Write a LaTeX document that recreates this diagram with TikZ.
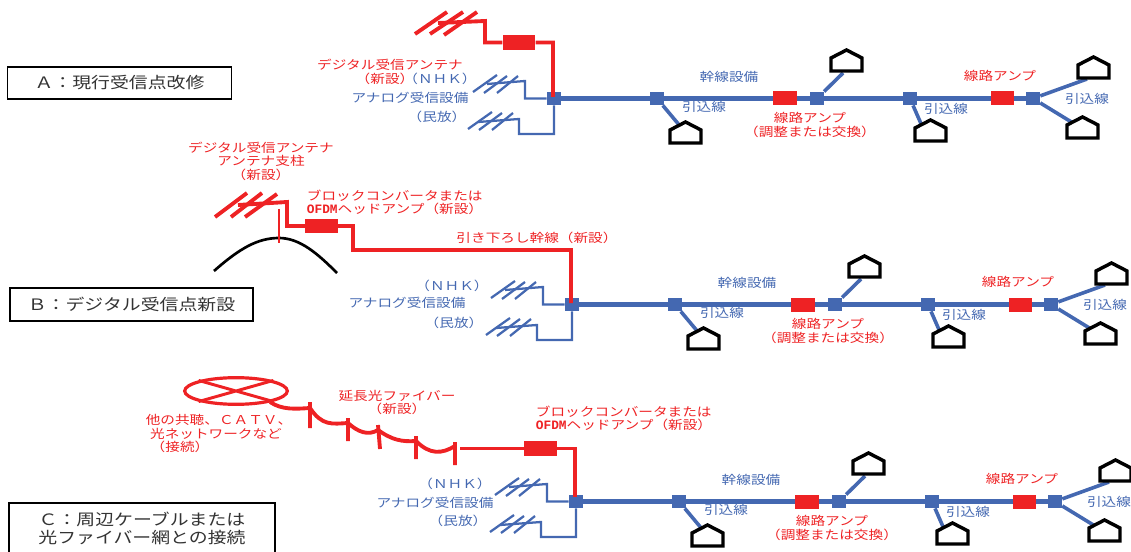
\documentclass[tikz,border=0pt]{standalone}
\usetikzlibrary{shapes.geometric}
\usepackage{fontspec}
\newfontfamily\jp[FakeStretch=1.2]{Noto Sans CJK JP}
\newfontfamily\ofdmfont[FakeStretch=1.0]{Liberation Mono}
\definecolor{netred}{HTML}{EE2224}
\definecolor{netblue}{HTML}{4468B1}
\definecolor{boxtext}{HTML}{333333}
\tikzset{
  lblred/.style={text=netred,font=\jp\fontsize{9.15}{10.2}\selectfont,inner sep=0pt,align=center},
  lblblue/.style={text=netblue,font=\jp\fontsize{9.15}{10.2}\selectfont,inner sep=0pt,align=center},
  titlebox/.style={draw=black,line width=1.2pt,fill=white,text=boxtext,font=\jp\fontsize{11.8}{13.5}\selectfont,inner sep=0pt,align=center},
  trunk/.style={draw=netblue,line width=3.7pt},
  branch/.style={draw=netblue,line width=2.7pt},
  thinblue/.style={draw=netblue,line width=1.7pt,line join=miter},
  redline/.style={draw=netred,line width=2.9pt,line join=miter},
  redthin/.style={draw=netred,line width=2.2pt},
  junction/.style={fill=netblue,minimum width=10.5pt,minimum height=10pt,inner sep=0pt},
  amp/.style={fill=netred,minimum width=17.5pt,minimum height=10.5pt,inner sep=0pt},
  bigamp/.style={fill=netred,minimum width=24.5pt,minimum height=11pt,inner sep=0pt},
  housebox/.style={draw=black,line width=2.6pt,fill=white,line join=miter},
}
% house: #1 top-left corner x, #2 roof top y
\newcommand{\housepic}[2]{\draw[housebox] (#1,#2+21) -- (#1,#2+8) -- (#1+15.5,#2) -- (#1+31,#2+8) -- (#1+31,#2+21) -- cycle;}
% blue antenna: #1 x-shift, #2 y-shift in relation to the upper antenna position
\newcommand{\blueelements}[2]{%
  \draw[thinblue] (#1,#2) -- (#1+24,#2-17) (#1+11,#2+1) -- (#1+34,#2-16) (#1+24,#2+1) -- (#1+45,#2-16);}
% repeated distribution network: #1 prefix, #2 dx, #3 dy
\newcommand{\feeder}[3]{%
\begin{scope}[shift={(#2,#3)},name prefix=#1-]
  \node[junction] (J) at (554,98.5) {};
  \node[junction] (S1) at (657,98.5) {};
  \node[amp] (A1) at (785,98.5) {};
  \node[junction] (S2) at (817,98.5) {};
  \node[junction] (S3) at (910,98.5) {};
  \node[amp] (A2) at (1002.5,98.5) {};
  \node[junction] (S4) at (1033,98.5) {};
  \draw[trunk] (J) -- (S1) -- (A1) -- (S2) -- (S3) -- (A2) -- (S4);
  \coordinate (H1) at (680,126);
  \coordinate (H2) at (843,73);
  \coordinate (H3) at (922,126);
  \coordinate (H4) at (1087,79);
  \coordinate (H5) at (1073,123);
  \draw[branch] (S1) -- (H1);
  \draw[branch] (S2) -- (H2);
  \draw[branch] (S3) -- (H3);
  \draw[branch] (S4) -- (H4);
  \draw[branch] (S4) -- (H5);
  \housepic{670}{122}
  \housepic{831}{50}
  \housepic{915}{120}
  \housepic{1078}{57}
  \housepic{1067}{117}
  \coordinate (U1) at (487,84);
  \coordinate (U2) at (525,81);
  \coordinate (U3) at (525,98.5);
  \coordinate (L1) at (478,122);
  \coordinate (L2) at (519,119);
  \coordinate (L3) at (519,134);
  \coordinate (L4) at (554,134);
  \blueelements{473}{92}
  \blueelements{468}{129}
  \draw[thinblue] (U1) -- (U2) -- (U3) -- (J);
  \draw[thinblue] (L1) -- (L2) -- (L3) -- (L4) -- (J);
  \node[lblblue] (t1) at (729,77) {幹線設備};
  \node[lblblue] (t2) at (704,107) {引込線};
  \node[lblred] (t3) at (810,125) {線路アンプ\\（調整または交換）};
  \node[lblblue] (t4) at (946,109) {引込線};
  \node[lblred] (t5) at (1000,76) {線路アンプ};
  \node[lblblue] (t6) at (1087,99) {引込線};
\end{scope}}
\begin{document}
\begin{tikzpicture}[x=0.75pt,y=-0.75pt]
\useasboundingbox (0,0) rectangle (1131,552);
\clip (0,0) rectangle (1131,552);
% ---- A
\feeder{a}{0}{0}
\node[titlebox,minimum width=168pt,minimum height=24pt] (boxA) at (119.5,83) {Ａ：現行受信点改修};
\node[bigamp] (ampA) at (519,42.5) {};
\coordinate (a1) at (438,23);
\coordinate (a2) at (485,21);
\coordinate (a3) at (485,42.5);
\coordinate (a4) at (553,42.5);
\coordinate (a5) at (553,97);
\draw[redline] (415,34) -- (447,12) (430,34) -- (463,12) (444,35) -- (477,12);
\draw[redline] (a1) -- (a2) -- (a3) -- (ampA) -- (a4) -- (a5);
\node[lblred] (la1) at (390,65) {デジタル受信アンテナ};
\node[lblred] (la2) at (385,79) {（新設）};
\node[lblblue] (la3) at (440,79) {（ＮＨＫ）};
\node[lblblue] (la4) at (410,98) {アナログ受信設備};
\node[lblblue] (la5) at (437,117) {（民放）};
% ---- B
\feeder{b}{18}{206}
\node[titlebox,minimum width=182pt,minimum height=24.5pt] (boxB) at (131.5,304.5) {Ｂ：デジタル受信点新設};
\coordinate (hl) at (214,271);
\coordinate (hr) at (337,273);
\coordinate (ht) at (279,238);
\draw[black,line width=2pt] (hl) .. controls (240,248) and (258,238) .. (ht) .. controls (300,238) and (318,254) .. (hr);
\draw[redthin] (279,209) -- (279,243);
\node[bigamp] (ampB) at (321.5,226) {};
\coordinate (b1) at (238,205);
\coordinate (b2) at (287,202);
\coordinate (b3) at (287,226);
\coordinate (b4) at (353,226);
\coordinate (b5) at (353,250);
\coordinate (b6) at (571,250);
\coordinate (b7) at (571,303);
\draw[redline] (215,217) -- (247,193) (231,217) -- (262,193) (245,217) -- (277,194);
\draw[redline] (b1) -- (b2) -- (b3) -- (ampB) -- (b4) -- (b5) -- (b6) -- (b7);
\node[lblred] (lb1) at (261,161) {デジタル受信アンテナ\\アンテナ支柱\\（新設）};
\node[lblred,align=left] (lb2) at (395,202.5) {ブロックコンバータまたは\\{\ofdmfont\bfseries\fontsize{9.6}{10.2}\selectfont OFDM}ヘッドアンプ（新設）};
\node[lblred] (lb3) at (537,238) {引き下ろし幹線（新設）};
\node[lblblue] (lb4) at (452,286) {（ＮＨＫ）};
\node[lblblue] (lb5) at (407,303) {アナログ受信設備};
\node[lblblue] (lb6) at (454,323) {（民放）};
% ---- C
\feeder{c}{22}{403}
\node[titlebox,minimum width=199.5pt,minimum height=45pt] (boxC) at (142,533) {};
\node[text=boxtext,font=\jp\fontsize{11.8}{13.5}\selectfont,inner sep=0pt,align=center] (lc0) at (142,528) {Ｃ：周辺ケーブルまたは\\光ファイバー網との接続};
\node[draw=netred,line width=2.4pt,ellipse,minimum width=77pt,minimum height=20pt,inner sep=0pt] (ell) at (236,391) {};
\draw[redthin] (ell.north west) -- (ell.south east) (ell.south west) -- (ell.north east);
\coordinate (f0) at (270,402);
\coordinate (f1) at (310,408);
\coordinate (f2) at (348,423);
\coordinate (f3) at (378,430);
\coordinate (f4) at (416,441);
\coordinate (f5) at (455,446);
\draw[redline] (f0) .. controls (282,410) and (295,409) .. (f1);
\draw[redline] (f1) .. controls (322,426) and (332,424) .. (f2);
\draw[redline] (f2) .. controls (358,432) and (368,436) .. (f3);
\draw[redline] (f3) .. controls (392,440) and (402,442) .. (f4);
\draw[redline] (f4) .. controls (430,455) and (442,454) .. (f5);
\draw[redline] (310,402) -- (310,428) (348,418) -- (348,441) (378,425) -- (380,449) (416,436) -- (416,459) (455,442) -- (455,465);
\node[bigamp] (ampC) at (540.5,448.5) {};
\coordinate (c1) at (460,448.5);
\coordinate (c2) at (575,448.5);
\coordinate (c3) at (575,497);
\draw[redline] (c1) -- (ampC) -- (c2) -- (c3);
\node[lblred] (lc1) at (397,402.5) {延長光ファイバー\\（新設）};
\node[lblred,align=left] (lc2) at (219,420) {他の共聴、ＣＡＴＶ、};
\node[lblred] (lc3) at (216,434) {光ネットワークなど};
\node[lblred] (lc4) at (180,447) {（接続）};
\node[lblred,align=left] (lc5) at (624,418.5) {ブロックコンバータまたは\\{\ofdmfont\bfseries\fontsize{9.6}{10.2}\selectfont OFDM}ヘッドアンプ（新設）};
\node[lblblue] (lc6) at (455,484) {（ＮＨＫ）};
\node[lblblue] (lc7) at (435,503) {アナログ受信設備};
\node[lblblue] (lc8) at (458,521) {（民放）};
\end{tikzpicture}
\end{document}
